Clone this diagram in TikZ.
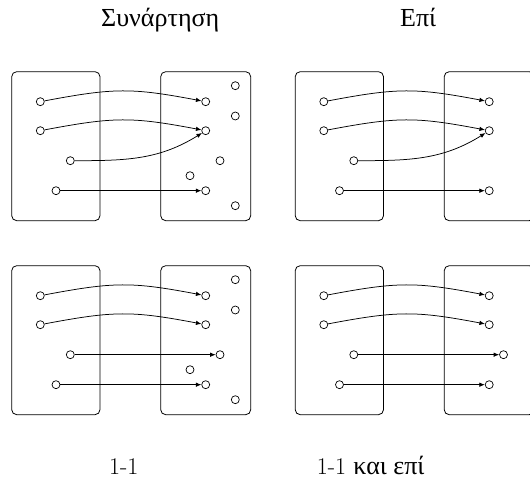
\documentclass[tikz,border=0pt]{standalone}
\usepackage{fontspec}
\newfontfamily\greekfont{Liberation Serif}
\usetikzlibrary{arrows.meta}
\tikzset{
  pt/.style={circle,draw,inner sep=0pt,minimum size=8pt,line width=0.7pt},
  setbox/.style={draw,rounded corners=5pt,line width=0.8pt},
  map/.style={-{Latex[length=5.5pt,width=4.5pt]},line width=0.75pt},
  lbl/.style={anchor=base west,inner sep=0pt,font=\fontsize{24}{28}\selectfont},
  gr/.style={font=\fontsize{26}{30}\selectfont\greekfont},
}
\newcommand\setboxes{%
  \draw[setbox] (11.7,260.3) rectangle (100,409.3);
  \draw[setbox] (160.7,260.3) rectangle (250.7,409.3);
}
\newcommand\leftpts[1]{%
  \node[pt] (#1L1) at (40.3,379.3) {};
  \node[pt] (#1L2) at (40.3,350.3) {};
  \node[pt] (#1L3) at (70.3,320.3) {};
  \node[pt] (#1L4) at (56,290.3) {};
}
\newcommand\hump[2]{\draw[map] (#1) .. controls +(74,14) and +(-74,14) .. (#2);}
\begin{document}
\begin{tikzpicture}[x=1pt,y=1pt]
\clip (0,0) rectangle (530,481);
% ---------- top left: function
\begin{scope}
  \setboxes
  \leftpts{a}
  \node[pt] (aR1) at (205.7,379.3) {};
  \node[pt] (aR2) at (205.7,350.3) {};
  \node[pt] (aR3) at (220,320.3) {};
  \node[pt] (aR4) at (190,305.3) {};
  \node[pt] (aR5) at (205.7,290.3) {};
  \node[pt] (aE1) at (235.3,395.3) {};
  \node[pt] (aE2) at (235.3,365) {};
  \node[pt] (aE3) at (235.3,275.3) {};
  \hump{aL1}{aR1}
  \hump{aL2}{aR2}
  \draw[map] (aL3) to[out=0,in=212] (aR2);
  \draw[map] (aL4) -- (aR5);
\end{scope}
% ---------- top right: onto
\begin{scope}[shift={(283.5,0)}]
  \setboxes
  \leftpts{b}
  \node[pt] (bR1) at (205.7,379.3) {};
  \node[pt] (bR2) at (205.7,350.3) {};
  \node[pt] (bR5) at (205.7,290.3) {};
  \hump{bL1}{bR1}
  \hump{bL2}{bR2}
  \draw[map] (bL3) to[out=0,in=212] (bR2);
  \draw[map] (bL4) -- (bR5);
\end{scope}
% ---------- bottom left: 1-1
\begin{scope}[shift={(0,-194)}]
  \setboxes
  \leftpts{c}
  \node[pt] (cR1) at (205.7,379.3) {};
  \node[pt] (cR2) at (205.7,350.3) {};
  \node[pt] (cR3) at (220,320.3) {};
  \node[pt] (cR4) at (190,305.3) {};
  \node[pt] (cR5) at (205.7,290.3) {};
  \node[pt] (cE1) at (235.3,395.3) {};
  \node[pt] (cE2) at (235.3,365) {};
  \node[pt] (cE3) at (235.3,275.3) {};
  \hump{cL1}{cR1}
  \hump{cL2}{cR2}
  \draw[map] (cL3) -- (cR3);
  \draw[map] (cL4) -- (cR5);
\end{scope}
% ---------- bottom right: 1-1 and onto
\begin{scope}[shift={(283.5,-194)}]
  \setboxes
  \leftpts{d}
  \node[pt] (dR1) at (205.7,379.3) {};
  \node[pt] (dR2) at (205.7,350.3) {};
  \node[pt] (dR3) at (220,320.3) {};
  \node[pt] (dR5) at (205.7,290.3) {};
  \hump{dL1}{dR1}
  \hump{dL2}{dR2}
  \draw[map] (dL3) -- (dR3);
  \draw[map] (dL4) -- (dR5);
\end{scope}
% ---------- labels
\node[lbl,gr] (t1) at (101,454) {Συνάρτηση};
\node[lbl,gr] (t2) at (400,454) {Επί};
\node[lbl] (t3) at (109,6) {1-1};
\node[lbl] (t4) at (316.7,6) {1-1 {\fontsize{26}{30}\selectfont\greekfont και επί}};
\end{tikzpicture}
\end{document}
